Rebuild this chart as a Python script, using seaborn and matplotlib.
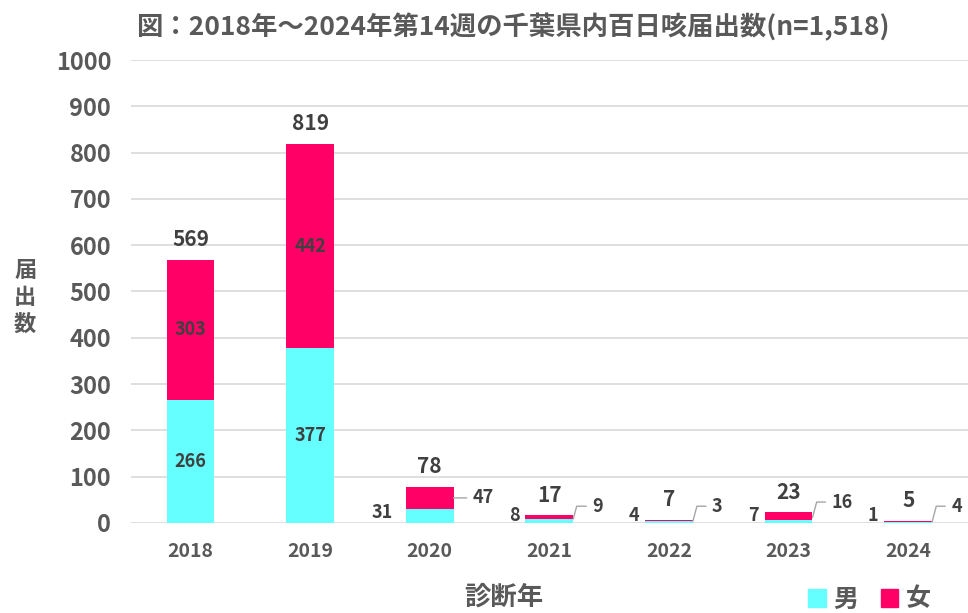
import matplotlib
matplotlib.use("Agg")
import matplotlib.pyplot as plt
from matplotlib.patches import Patch
import numpy as np
import pandas as pd
import seaborn as sns

# データ
years = ["2018", "2019", "2020", "2021", "2022", "2023", "2024"]
male = [266, 377, 31, 8, 4, 7, 1]
female = [303, 442, 47, 9, 3, 16, 4]
total = [569, 819, 78, 17, 7, 23, 5]

df = pd.DataFrame({"year": years, "male": male, "female": female, "total": total})

sns.set_theme(style="white")
plt.rcParams["font.family"] = ["Noto Sans CJK JP", "DejaVu Sans"]
plt.rcParams["font.weight"] = "bold"

gray = "#595959"
dark = "#404040"
cyan = "#66FFFF"
pink = "#FF0066"

fig = plt.figure(figsize=(9.68, 6.13), dpi=100)
ax = fig.add_axes([0.135, 0.147, 0.865, 0.755])

# 積み上げ棒：男を描いてから、女の棒を男の上に積む
sns.barplot(data=df, x="year", y="male", color=cyan, width=0.4, saturation=1,
            linewidth=0, ax=ax, zorder=2)
sns.barplot(data=df, x="year", y="female", color=pink, width=0.4, saturation=1,
            linewidth=0, ax=ax, zorder=3)
for p, m in zip(ax.containers[1], male):
    p.set_y(m)

ax.set_ylim(0, 1000)
ax.set_xlim(-0.5, 6.5)
ax.set_yticks(np.arange(0, 1001, 100))
ax.yaxis.grid(True, color="#d9d9d9", lw=1.2, zorder=0)
ax.set_axisbelow(True)
for s in ax.spines.values():
    s.set_visible(False)
ax.tick_params(axis="y", length=0, labelsize=17, labelcolor=gray, pad=14)
ax.tick_params(axis="x", length=0, labelsize=14, labelcolor=gray, pad=14)
for lab in ax.get_xticklabels() + ax.get_yticklabels():
    lab.set_fontweight("bold")
ax.set_xlabel("")
ax.set_ylabel("")
fig.text(0.52, 0.026, "診断年", fontsize=19, color=gray, fontweight="bold",
         ha="center", va="center")
fig.text(0.026, 0.515, "届\n出\n数", fontsize=16, color=gray, fontweight="bold",
         ha="center", va="center", linespacing=1.2)

# ラベル
for i in range(len(years)):
    m, f, t = male[i], female[i], total[i]
    ax.text(i, t + 43, str(t), ha="center", va="center", fontsize=15,
            color=dark, fontweight="bold")
    if t > 200:
        ax.text(i, m / 2, str(m), ha="center", va="center", fontsize=13,
                color=dark, fontweight="bold")
        ax.text(i, m + f / 2, str(f), ha="center", va="center", fontsize=13,
                color=dark, fontweight="bold")
    else:
        big = i == 2
        ax.text(i - (0.31 if big else 0.25), 22 if big else 15, str(m),
                ha="right", va="center", fontsize=13, color=dark, fontweight="bold")
        ly = 54 if big else (45 if i == 5 else 36)
        ax.annotate(str(f), xy=(i + 0.2, m + f / 2 if big else t / 2),
                    xytext=(i + 0.36, ly), ha="left", va="center", fontsize=13,
                    color=dark, fontweight="bold",
                    arrowprops=dict(arrowstyle="-", color="#a6a6a6", lw=1,
                                    shrinkA=2, shrinkB=0,
                                    connectionstyle="angle,angleA=0,angleB=75,rad=0"))

fig.text(0.53, 0.955, "図：2018年～2024年第14週の千葉県内百日咳届出数(n=1,518)",
         fontsize=19, color=gray, fontweight="bold", ha="center", va="center")

handles = [Patch(color=cyan, label="男"), Patch(color=pink, label="女")]
fig.legend(handles=handles, loc="center right", bbox_to_anchor=(0.985, 0.022), ncol=2,
           frameon=False, fontsize=18, handlelength=0.7, handleheight=0.7,
           handletextpad=0.3, columnspacing=0.9, labelcolor=gray)

fig.savefig("out.png", dpi=100)
